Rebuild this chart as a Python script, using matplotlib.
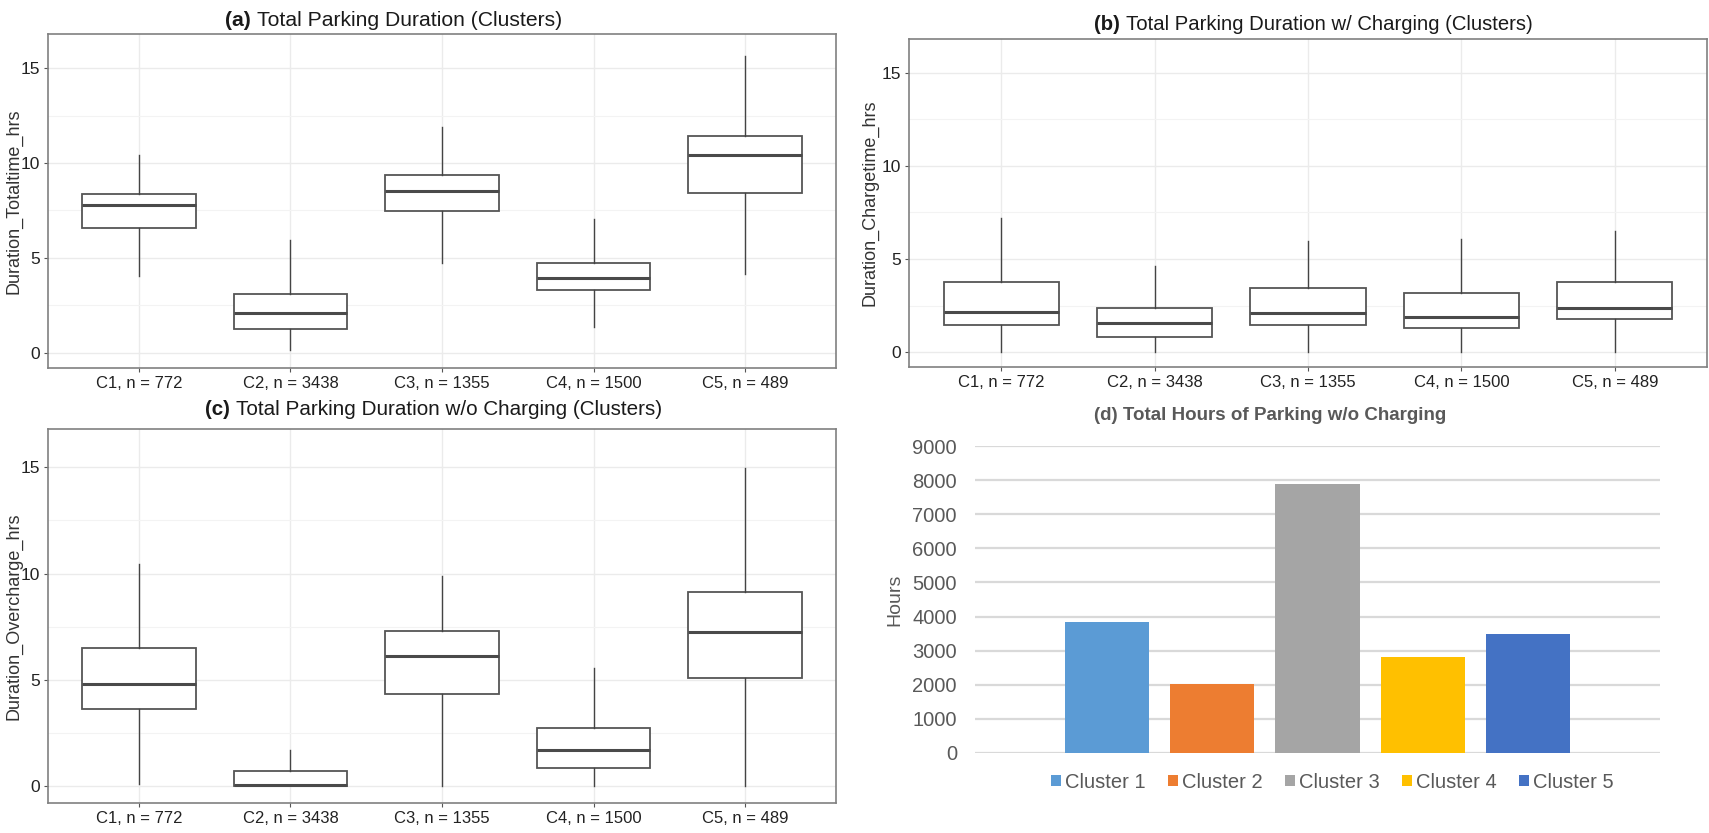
import matplotlib
matplotlib.use('Agg')
import matplotlib.pyplot as plt
from matplotlib.patches import Patch
# ------------------------------ #

clusterLabels = ['C1, n = 772', 'C2, n = 3438', 'C3, n = 1355', 'C4, n = 1500', 'C5, n = 489']

# five-number summaries (hours) per cluster
totalLo = [4.05, 0.14, 4.71, 1.34, 4.13]
totalQ1 = [6.56, 1.23, 7.49, 3.31, 8.44]
totalMed = [7.79, 2.08, 8.55, 3.96, 10.43]
totalQ3 = [8.35, 3.10, 9.37, 4.75, 11.43]
totalHi = [10.43, 5.94, 11.92, 7.04, 15.65]

chargeLo = [0.0, 0.0, 0.0, 0.0, 0.0]
chargeQ1 = [1.44, 0.83, 1.44, 1.31, 1.79]
chargeMed = [2.15, 1.54, 2.08, 1.90, 2.39]
chargeQ3 = [3.77, 2.35, 3.46, 3.19, 3.77]
chargeHi = [7.18, 4.63, 5.97, 6.07, 6.51]

overLo = [0.10, 0.0, 0.0, 0.0, 0.0]
overQ1 = [3.62, 0.0, 4.32, 0.83, 5.07]
overMed = [4.79, 0.05, 6.12, 1.69, 7.23]
overQ3 = [6.48, 0.72, 7.31, 2.71, 9.12]
overHi = [10.45, 1.69, 9.89, 5.54, 14.95]

barLabels = ['Cluster 1', 'Cluster 2', 'Cluster 3', 'Cluster 4', 'Cluster 5']
barHours = [3850, 2020, 7880, 2800, 3490]
barColors = ['#5B9BD5', '#ED7D31', '#A5A5A5', '#FFC000', '#4472C4']
# ------------------------------ #

W, H = 1709, 833
sans = ['Liberation Sans', 'DejaVu Sans']

fig = plt.figure(figsize=(W / 100, H / 100), dpi=100, facecolor='white')
renderer = fig.canvas.get_renderer()


def axesAt(left, top, right, bottom):
	return fig.add_axes([left / W, 1 - bottom / H, (right - left) / W, (bottom - top) / H])


def mixedTitle(xLeft, yMid, prefix, rest, size, color='#1a1a1a'):
	# bold panel tag followed by the plain title text
	head = fig.text(xLeft / W, 1 - yMid / H, prefix, ha='left', va='center',
		family=sans, fontsize=size, fontweight='bold', color=color)
	bb = head.get_window_extent(renderer=renderer)
	gap = 0.278 * size * 100 / 72
	fig.text((bb.x1 + gap) / W, 1 - yMid / H, rest, ha='left', va='center',
		family=sans, fontsize=size, color=color)


def boxPanel(ax, lo, q1, med, q3, hi, ylabel, labelX):
	stats = [
		dict(whislo=a, q1=b, med=c, q3=d, whishi=e, fliers=[])
		for a, b, c, d, e in zip(lo, q1, med, q3, hi)
	]
	ax.bxp(
		stats,
		positions=range(1, 6),
		widths=0.75,
		showcaps=False,
		showfliers=False,
		patch_artist=True,
		boxprops=dict(facecolor='white', edgecolor='#555555', linewidth=1.3),
		medianprops=dict(color='#4a4a4a', linewidth=2.2),
		whiskerprops=dict(color='#444444', linewidth=1.0),
	)
	ax.set_xlim(0.4, 5.6)
	ax.set_ylim(-0.8, 16.8)
	ax.set_xticks(range(1, 6))
	ax.set_xticklabels(clusterLabels, family=sans, fontsize=12, color='#222222')
	ax.set_yticks([0, 5, 10, 15])
	ax.set_yticks([2.5, 7.5, 12.5], minor=True)
	for lbl in ax.get_yticklabels():
		lbl.set_family(sans)
		lbl.set_fontsize(12.5)
		lbl.set_color('#222222')
	ax.set_axisbelow(True)
	ax.grid(which='major', color='#EBEBEB', linewidth=1.0)
	ax.grid(which='minor', axis='y', color='#F3F3F3', linewidth=0.8)
	ax.tick_params(which='major', length=3, width=0.8, color='#555555', pad=3)
	ax.tick_params(which='minor', length=0)
	for sp in ax.spines.values():
		sp.set_color('#808080')
		sp.set_linewidth(1.2)
	ax.set_ylabel(ylabel, family=sans, fontsize=13, color='#333333')
	ax.yaxis.set_label_coords(labelX, 0.5)
# ------------------------------ #

axA = axesAt(48, 34, 836, 368)
boxPanel(axA, totalLo, totalQ1, totalMed, totalQ3, totalHi, 'Duration_Totaltime_hrs', -0.032)
mixedTitle(225, 20, '(a)', 'Total Parking Duration (Clusters)', 15.2)

axB = axesAt(909, 39, 1707, 367)
boxPanel(axB, chargeLo, chargeQ1, chargeMed, chargeQ3, chargeHi, 'Duration_Chargetime_hrs', -0.038)
mixedTitle(1094, 25, '(b)', 'Total Parking Duration w/ Charging (Clusters)', 14.6)

axC = axesAt(48, 429, 836, 803)
boxPanel(axC, overLo, overQ1, overMed, overQ3, overHi, 'Duration_Overcharge_hrs', -0.032)
mixedTitle(205, 410, '(c)', 'Total Parking Duration w/o Charging (Clusters)', 14.9)
# ------------------------------ #

axD = axesAt(975, 446, 1660, 753)
bars = axD.bar(range(len(barHours)), barHours, width=0.8, color=barColors, zorder=3)
axD.set_xlim(-1.26, 5.26)
axD.set_ylim(0, 9000)
axD.set_yticks(range(0, 9001, 1000))
axD.set_xticks([])
for lbl in axD.get_yticklabels():
	lbl.set_family(sans)
	lbl.set_fontsize(14.5)
	lbl.set_color('#595959')
axD.tick_params(axis='y', length=0, pad=13)
axD.grid(axis='y', color='#D9D9D9', linewidth=1.6, zorder=0)
axD.set_axisbelow(True)
for sp in axD.spines.values():
	sp.set_visible(False)
axD.set_ylabel('Hours', family=sans, fontsize=14, color='#595959')
axD.yaxis.set_label_coords(-0.105, 0.5)
fig.text(1270 / W, 1 - 415 / H, '(d) Total Hours of Parking w/o Charging',
	ha='center', va='center', family=sans, fontsize=13.5, fontweight='bold', color='#595959')

handles = [Patch(facecolor=c, edgecolor='none') for c in barColors]
fig.legend(
	handles, barLabels,
	loc='center', bbox_to_anchor=(1332 / W, 1 - 782 / H),
	ncol=5, frameon=False,
	handlelength=0.5, handleheight=0.5, handletextpad=0.2, columnspacing=1.1,
	labelcolor='#595959', prop=dict(family=sans, size=14.5),
)

plt.savefig('out.png', dpi=100, facecolor='white')
